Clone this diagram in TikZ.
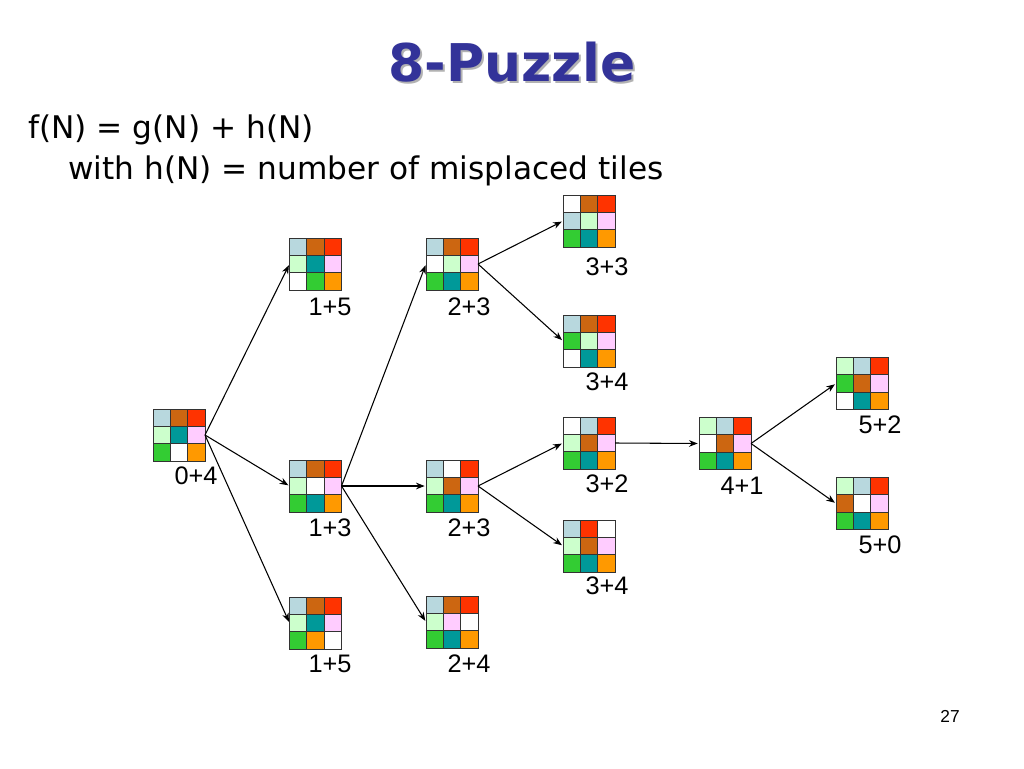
\documentclass[tikz,border=0pt]{standalone}
\usepackage{fontspec}
\setmainfont{Liberation Sans}
\newfontfamily\bodyfont{DejaVu Sans}
\usetikzlibrary{calc,arrows.meta}
\definecolor{plb}{RGB}{184,216,222}
\definecolor{pbr}{RGB}{204,102,17}
\definecolor{prd}{RGB}{255,51,0}
\definecolor{plg}{RGB}{204,255,204}
\definecolor{ptl}{RGB}{0,153,153}
\definecolor{ppk}{RGB}{255,204,255}
\definecolor{pgr}{RGB}{51,204,51}
\definecolor{por}{RGB}{255,153,0}
\definecolor{titleblue}{RGB}{51,51,153}
\newcommand\pgrid[4]{%
  \node[gridbox] (#1) at (#2,#3) {};
  \foreach \cl [count=\i from 0] in {#4} {
    \pgfmathtruncatemacro\cc{mod(\i,3)}
    \pgfmathtruncatemacro\rr{\i/3}
    \filldraw[fill=\cl, draw=black!80, line width=0.7pt]
      ($(#1.north west)+(\cc*17.33,\rr*17.33)$) rectangle ++(17.33,17.33);
  }
}
\begin{document}
\begin{tikzpicture}[x=0.75pt,y=-0.75pt,
  gridbox/.style={minimum width=52*0.75pt, minimum height=52*0.75pt, inner sep=0pt, outer sep=0pt},
  lbl/.style={font=\fontsize{19}{22}\selectfont, inner sep=0pt},
  arr/.style={-{Stealth[length=6.5pt,width=5pt]}, line width=0.8pt, shorten >=1pt}]
\useasboundingbox[fill=white] (0,0) rectangle (1024,768);
% title
\node[font=\bodyfont\fontsize{39}{44}\selectfont\bfseries, text=black!30] (titlesh) at (514,64) {8-Puzzle};
\node[font=\bodyfont\fontsize{39}{44}\selectfont\bfseries, text=titleblue] (title) at (512,62) {8-Puzzle};
\node[anchor=west, font=\bodyfont\fontsize{23.4}{28}\selectfont, inner sep=0pt] (f1) at (28,130) {f(N) = g(N) + h(N)};
\node[anchor=west, font=\bodyfont\fontsize{23.4}{28}\selectfont, inner sep=0pt] (f2) at (68,171) {with h(N) = number of misplaced tiles};
\node[font=\fontsize{13}{15}\selectfont, inner sep=0pt] (pg) at (950,716) {27};
% grids
\pgrid{r}{179}{435}{plb,pbr,prd,plg,ptl,ppk,pgr,white,por}
\pgrid{a1}{315.5}{264}{plb,pbr,prd,plg,ptl,ppk,white,pgr,por}
\pgrid{a2}{315.5}{486}{plb,pbr,prd,plg,white,ppk,pgr,ptl,por}
\pgrid{a3}{315.5}{623}{plb,pbr,prd,plg,ptl,ppk,pgr,por,white}
\pgrid{b1}{452}{264}{plb,pbr,prd,white,plg,ppk,pgr,ptl,por}
\pgrid{b2}{452}{486}{plb,white,prd,plg,pbr,ppk,pgr,ptl,por}
\pgrid{b3}{452}{622}{plb,pbr,prd,plg,ppk,white,pgr,ptl,por}
\pgrid{c1}{589}{221}{white,pbr,prd,plb,plg,ppk,pgr,ptl,por}
\pgrid{c2}{589}{341}{plb,pbr,prd,pgr,plg,ppk,white,ptl,por}
\pgrid{c3}{589}{443}{white,plb,prd,plg,pbr,ppk,pgr,ptl,por}
\pgrid{c4}{589}{546}{plb,prd,white,plg,pbr,ppk,pgr,ptl,por}
\pgrid{d1}{725}{443.5}{plg,plb,prd,white,pbr,ppk,pgr,ptl,por}
\pgrid{e1}{862}{383.5}{plg,plb,prd,pgr,pbr,ppk,white,ptl,por}
\pgrid{e2}{862}{503.5}{plg,plb,prd,pbr,white,ppk,pgr,ptl,por}
% labels
\node[lbl] (lr) at (196,476) {0+4};
\node[lbl] (la1) at (330,307) {1+5};
\node[lbl] (la2) at (330,528) {1+3};
\node[lbl] (la3) at (330,664) {1+5};
\node[lbl] (lb1) at (469,307) {2+3};
\node[lbl] (lb2) at (469,528) {2+3};
\node[lbl] (lb3) at (469,664) {2+4};
\node[lbl] (lc1) at (607,267) {3+3};
\node[lbl] (lc2) at (607,382) {3+4};
\node[lbl] (lc3) at (607,484) {3+2};
\node[lbl] (lc4) at (607,586) {3+4};
\node[lbl] (ld1) at (742,486) {4+1};
\node[lbl] (le1) at (880,425) {5+2};
\node[lbl] (le2) at (880,545) {5+0};
% edges
\foreach \s/\t in {r/a1,r/a2,r/a3,a2/b1,a2/b2,a2/b3,b1/c1,b1/c2,b2/c3,b2/c4,c3/d1,d1/e1,d1/e2}
  \draw[arr] (\s.east) -- (\t.west);
\end{tikzpicture}
\end{document}
